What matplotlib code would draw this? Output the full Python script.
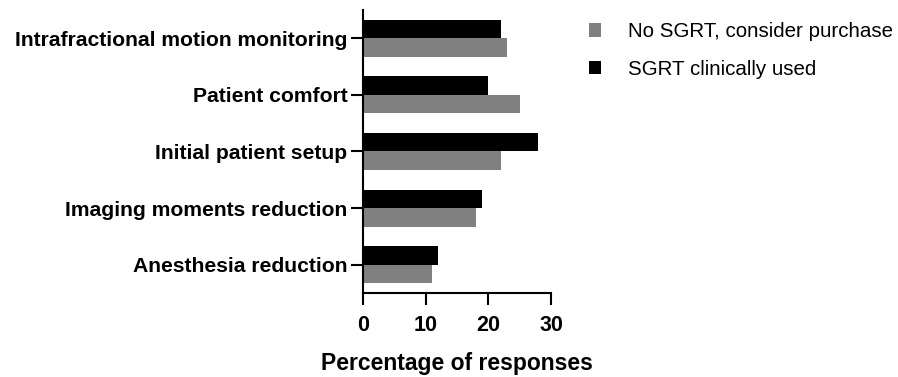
import numpy as np
import matplotlib.pyplot as plt

plt.rcParams.update({
    "font.family": ["Liberation Sans", "DejaVu Sans"],
    "font.size": 15,
})

categories = ["Intrafractional motion monitoring", "Patient comfort",
              "Initial patient setup", "Imaging moments reduction",
              "Anesthesia reduction"]
no_sgrt = [23, 25, 22, 18, 11]
sgrt_used = [22, 20, 28, 19, 12]
xticks = [0, 10, 20, 30]

color_gray = "#808080"
color_black = "#000000"

fig = plt.figure(figsize=(8.98, 3.77), dpi=100)
ax = fig.add_axes([0.404, 0.2228, 0.2096, 0.7507])

y = np.arange(len(categories))[::-1]
h = 0.326
ax.barh(y - h / 2, no_sgrt, height=h, color=color_gray, label="No SGRT, consider purchase")
ax.barh(y + h / 2, sgrt_used, height=h, color=color_black, label="SGRT clinically used")

ax.set_xlim(0, 30)
ax.set_ylim(-0.5, 4.5)
ax.set_xticks(xticks)
ax.set_xticklabels([str(t) for t in xticks], fontweight="bold", fontsize=15.5)
ax.set_yticks(y)
ax.set_yticklabels(categories, fontweight="bold", fontsize=15.2)
for s in ["top", "right"]:
    ax.spines[s].set_visible(False)
for s in ["left", "bottom"]:
    ax.spines[s].set_linewidth(1.5)
ax.tick_params(axis="y", width=1.5, length=9, pad=2)
ax.tick_params(axis="x", width=1.5, length=8.5, pad=7)
ax.set_xlabel("Percentage of responses", fontweight="bold", fontsize=16.5, labelpad=12)

fig.legend(loc="upper left", bbox_to_anchor=(0.635, 0.99), frameon=False,
           handlelength=0.6, handleheight=0.6, labelspacing=0.9, handletextpad=1.3,
           fontsize=14.8)

plt.savefig("out.png", dpi=100)
